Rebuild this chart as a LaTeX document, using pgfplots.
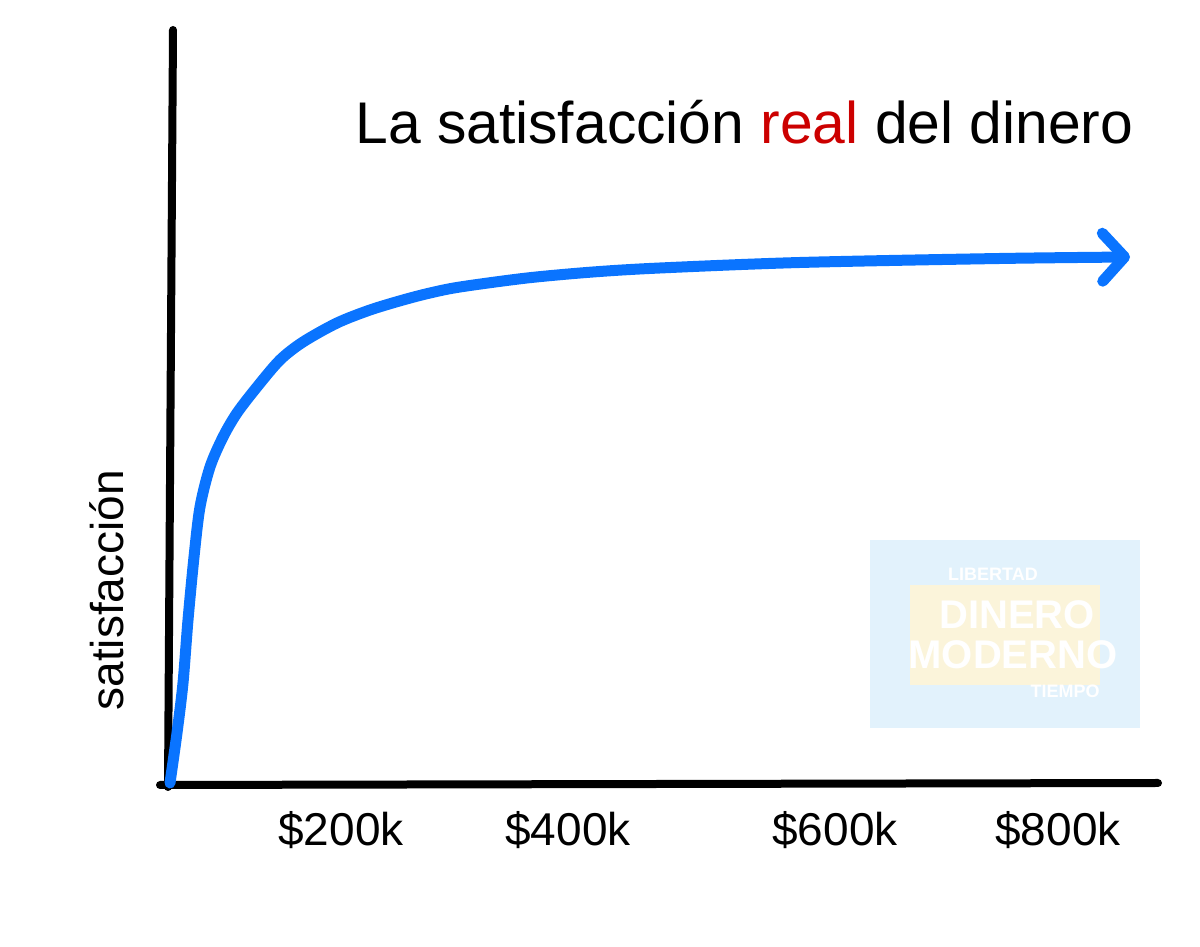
\documentclass[border=0pt]{standalone}
\usepackage{pgfplots}
\pgfplotsset{compat=1.18}
\usepackage{fontspec}
\setmainfont{Liberation Sans}
\usetikzlibrary{arrows.meta}
\definecolor{curveblue}{HTML}{0A74FF}
\definecolor{realred}{HTML}{CC0000}
\definecolor{wmblue}{HTML}{E2F2FC}
\definecolor{wmyellow}{HTML}{FBF4DA}
\begin{document}
\begin{tikzpicture}
\path[use as bounding box] (0,0) rectangle (600pt,473.5pt);
\begin{axis}[
  at={(80pt,81pt)}, anchor=south west,
  scale only axis, width=499pt, height=377.5pt,
  xmin=-10, xmax=988, ymin=0, ymax=755,
  axis line style={draw=none},
  ytick=\empty,
  xtick={171,398,665,888},
  xticklabels={\$200k,\$400k,\$600k,\$800k},
  major tick length=0pt,
  xticklabel style={font=\fontsize{23}{23}\selectfont, anchor=center, yshift=-22.5pt},
  ylabel={satisfacción},
  ylabel style={font=\fontsize{23}{23}\selectfont, at={(rel axis cs:-0.053,0.258)}, anchor=center},
  title={La satisfacción \textcolor{realred}{real} del dinero},
  title style={font=\fontsize{29.4}{30}\selectfont, at={(rel axis cs:0.1954,0.834)}, anchor=base west, inner sep=0pt},
  clip=false,
]
% watermark logo
\fill[wmblue] (axis cs:700,57) rectangle (axis cs:970,245);
\fill[wmyellow] (axis cs:740,100) rectangle (axis cs:930,200);
\node[font=\fontsize{9}{9}\selectfont\bfseries, text=white, inner sep=0pt] at (axis cs:823,211) {LIBERTAD};
\node[font=\fontsize{20}{20}\selectfont\bfseries, text=white, inner sep=0pt] at (axis cs:847,170) {DINERO};
\node[font=\fontsize{20}{20}\selectfont\bfseries, text=white, inner sep=0pt] at (axis cs:843,130) {MODERNO};
\node[font=\fontsize{9}{9}\selectfont\bfseries, text=white, inner sep=0pt] at (axis cs:895,94) {TIEMPO};
% hand-drawn axes
\draw[line width=4pt, line cap=round] (axis cs:3,755) -- (axis cs:-2,-2);
\draw[line width=4pt, line cap=round] (axis cs:-10,0) -- (axis cs:988,2);
% curve
\addplot[curveblue, line width=5.5pt, smooth, tension=0.5, line cap=round,
  -{Straight Barb[length=11pt, width=24pt, round]}] coordinates {
  (0,2) (7,52) (13,102) (18,165) (24,228) (30,278) (40,318) (53,348)
  (67,372) (87,398) (110,425) (133,443) (167,462) (200,475) (233,485)
  (260,492) (290,498) (357,507) (423,513) (490,517) (630,522.5) (830,526.5)
  (960,528)
};
\end{axis}
\end{tikzpicture}
\end{document}
